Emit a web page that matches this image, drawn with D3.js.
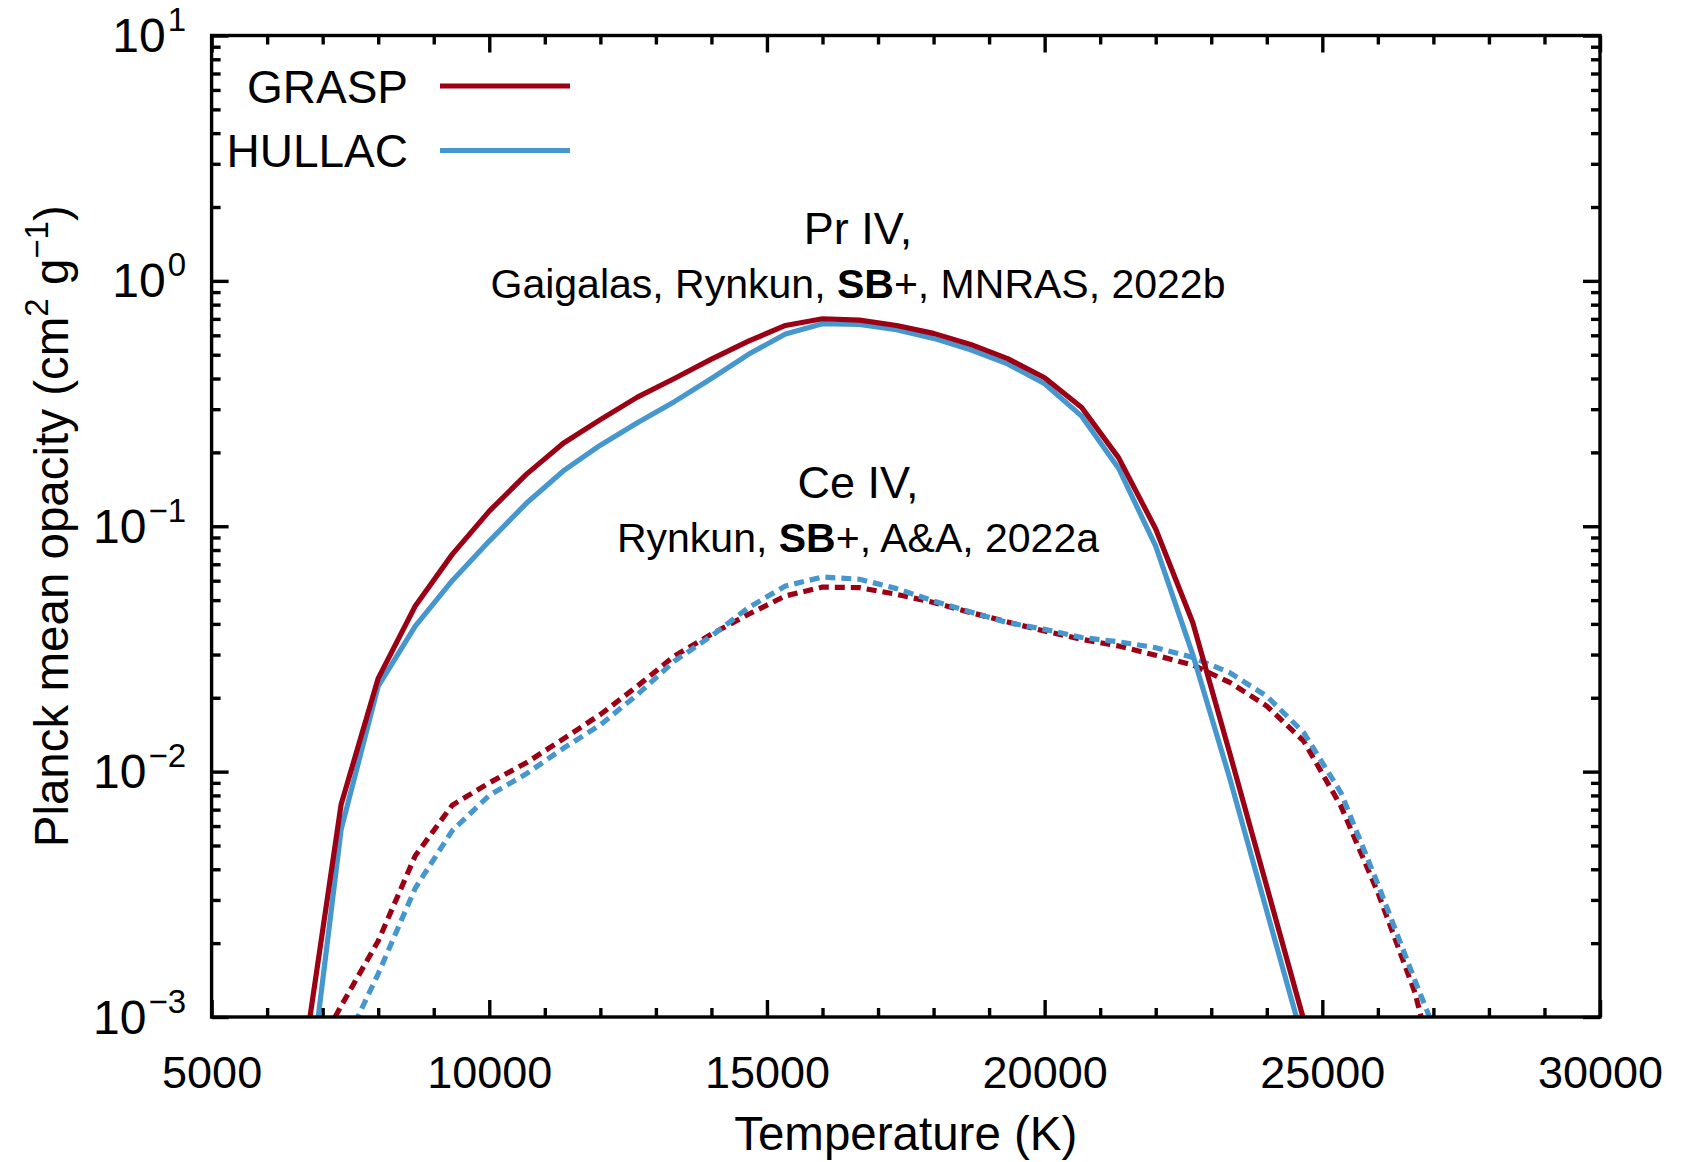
<!DOCTYPE html>
<html>
<head>
<meta charset="utf-8">
<script src="https://cdn.jsdelivr.net/npm/d3@7"></script>
<style>
  html, body { margin: 0; padding: 0; background: #fff; }
  svg { display: block; }
  text { font-family: "Liberation Sans", Arial, Helvetica, sans-serif; fill: #000; }
</style>
</head>
<body>
<svg id="chart" width="1684" height="1162"></svg>
<script>
// Temperature grid (K)
const temperature = [6667, 7333, 8000, 8667, 9333, 10000, 10667, 11333, 12000, 12667,
  13333, 14000, 14667, 15333, 16000, 16667, 17333, 18000, 18667, 19333,
  20000, 20667, 21333, 22000, 22667, 23333, 24000, 24667, 25333, 26000,
  26667, 27333];

// Planck mean opacity (cm^2 g^-1), Pr IV
const prGrasp = [0.00069, 0.00737, 0.0240, 0.0473, 0.0768, 0.1153, 0.1627, 0.218, 0.272, 0.336,
  0.400, 0.480, 0.568, 0.658, 0.701, 0.692, 0.658, 0.611, 0.551, 0.482,
  0.403, 0.305, 0.190, 0.0975, 0.0405, 0.0119, 0.0034, 0.00097, null, null,
  null, null];
const prHullac = [0.00034, 0.00582, 0.0223, 0.0392, 0.0600, 0.0870, 0.124, 0.168, 0.214, 0.264,
  0.322, 0.400, 0.502, 0.607, 0.669, 0.665, 0.632, 0.583, 0.524, 0.459,
  0.381, 0.281, 0.172, 0.083, 0.0300, 0.0094, 0.0027, 0.00078, null, null,
  null, null];

// Planck mean opacity (cm^2 g^-1), Ce IV
const ceGrasp = [0.00059, 0.00111, 0.00204, 0.00454, 0.0073, 0.0090, 0.01087, 0.0136, 0.0171, 0.0223,
  0.0296, 0.0363, 0.0438, 0.0520, 0.0565, 0.0562, 0.0528, 0.0489, 0.0445, 0.0407,
  0.0374, 0.0346, 0.0325, 0.0298, 0.0272, 0.0231, 0.0185, 0.0133, 0.00725, 0.00322,
  0.00126, 0.00032];
const ceHullac = [null, 0.00072, 0.00150, 0.00335, 0.00575, 0.0080, 0.0098, 0.01245, 0.0155, 0.0206,
  0.0282, 0.0357, 0.0466, 0.0571, 0.0621, 0.0608, 0.0557, 0.0496, 0.0447, 0.0405,
  0.0380, 0.0352, 0.0338, 0.0320, 0.0292, 0.0253, 0.0203, 0.0144, 0.00822, 0.00348,
  0.00141, 0.00059];

// Axis ticks
const xMajorTicks = [5000, 10000, 15000, 20000, 25000, 30000];
const xMinorTicks = d3.range(6000, 30000, 1000).filter(v => v % 5000 !== 0);
const yMajorTicks = [1e-3, 1e-2, 1e-1, 1, 10];
const yExponents = ["\u22123", "\u22122", "\u22121", "0", "1"];
const yMinorTicks = [];
[1e-3, 1e-2, 1e-1, 1].forEach(d => { for (let m = 2; m <= 9; m++) yMinorTicks.push(d * m); });

const legendNames = ["GRASP", "HULLAC"];
const colors = { GRASP: "#9b0014", HULLAC: "#4797cf" };

const svg = d3.select("#chart");
const plotLeft = 211.6, plotRight = 1600, plotTop = 35.5, plotBottom = 1017;

const x = d3.scaleLinear().domain([5000, 30000]).range([plotLeft, plotRight]);
const y = d3.scaleLog().domain([1e-3, 10]).range([plotBottom, plotTop]);

svg.append("rect").attr("width", 1684).attr("height", 1162).attr("fill", "#fff");

svg.append("defs").append("clipPath").attr("id", "plotClip")
  .append("rect").attr("x", plotLeft).attr("y", plotTop)
  .attr("width", plotRight - plotLeft).attr("height", plotBottom - plotTop);

// Curves
const series = [
  { values: ceGrasp, color: colors.GRASP, dash: "10,6" },
  { values: ceHullac, color: colors.HULLAC, dash: "10,6" },
  { values: prHullac, color: colors.HULLAC, dash: null },
  { values: prGrasp, color: colors.GRASP, dash: null }
];
const line = d3.line()
  .defined(d => d.v != null)
  .x(d => x(d.t))
  .y(d => y(d.v));

const curves = svg.append("g").attr("clip-path", "url(#plotClip)");
series.forEach(s => {
  const pts = temperature.map((t, i) => ({ t, v: s.values[i] }));
  curves.append("path")
    .attr("d", line(pts))
    .attr("fill", "none")
    .attr("stroke", s.color)
    .attr("stroke-width", 5.2)
    .attr("stroke-linejoin", "round")
    .attr("stroke-dasharray", s.dash);
});

// Axes with inward ticks on all four sides
function styleAxis(g) {
  g.select(".domain").remove();
  g.selectAll(".tick line").attr("stroke", "#000").attr("stroke-width", 3.4);
}
const majorLen = 17, minorLen = 9;

const xb = svg.append("g").attr("transform", `translate(0,${plotBottom})`)
  .call(d3.axisBottom(x).tickValues(xMajorTicks).tickSize(-majorLen).tickPadding(39)
    .tickFormat(d3.format("d")));
styleAxis(xb);
xb.selectAll("text").attr("font-size", 45).attr("font-family", "Liberation Sans, Arial, sans-serif");
svg.append("g").attr("transform", `translate(0,${plotBottom})`)
  .call(d3.axisBottom(x).tickValues(xMinorTicks).tickSize(-minorLen).tickFormat(""))
  .call(styleAxis);
svg.append("g").attr("transform", `translate(0,${plotTop})`)
  .call(d3.axisTop(x).tickValues(xMajorTicks).tickSize(-majorLen).tickFormat(""))
  .call(styleAxis);
svg.append("g").attr("transform", `translate(0,${plotTop})`)
  .call(d3.axisTop(x).tickValues(xMinorTicks).tickSize(-minorLen).tickFormat(""))
  .call(styleAxis);

svg.append("g").attr("transform", `translate(${plotLeft},0)`)
  .call(d3.axisLeft(y).tickValues(yMajorTicks).tickSize(-majorLen).tickFormat(""))
  .call(styleAxis);
svg.append("g").attr("transform", `translate(${plotLeft},0)`)
  .call(d3.axisLeft(y).tickValues(yMinorTicks).tickSize(-minorLen).tickFormat(""))
  .call(styleAxis);
svg.append("g").attr("transform", `translate(${plotRight},0)`)
  .call(d3.axisRight(y).tickValues(yMajorTicks).tickSize(-majorLen).tickFormat(""))
  .call(styleAxis);
svg.append("g").attr("transform", `translate(${plotRight},0)`)
  .call(d3.axisRight(y).tickValues(yMinorTicks).tickSize(-minorLen).tickFormat(""))
  .call(styleAxis);

// Y tick labels as powers of ten
const yLabels = svg.append("g");
yMajorTicks.forEach((v, i) => {
  const t = yLabels.append("text")
    .attr("x", 186).attr("y", y(v) + 16.5)
    .attr("text-anchor", "end").attr("font-size", 48);
  t.append("tspan").text("10");
  t.append("tspan").attr("font-size", 33).attr("dy", -21).attr("dx", 2).text(yExponents[i]);
});

// Frame
svg.append("rect")
  .attr("x", plotLeft).attr("y", plotTop)
  .attr("width", plotRight - plotLeft).attr("height", plotBottom - plotTop)
  .attr("fill", "none").attr("stroke", "#000").attr("stroke-width", 3.4);

// Axis titles
svg.append("text")
  .attr("x", (plotLeft + plotRight) / 2).attr("y", 1150)
  .attr("text-anchor", "middle").attr("font-size", 47.5)
  .text("Temperature (K)");

const yt = svg.append("text")
  .attr("transform", `translate(68,${(plotTop + plotBottom) / 2}) rotate(-90)`)
  .attr("text-anchor", "middle").attr("font-size", 47.5);
yt.append("tspan").text("Planck mean opacity (cm");
yt.append("tspan").attr("font-size", 33).attr("dy", -20).text("2");
yt.append("tspan").attr("dy", 20).text(" g");
yt.append("tspan").attr("font-size", 33).attr("dy", -20).text("\u22121");
yt.append("tspan").attr("dy", 20).text(")");

// Legend
const legendY = [86, 150.5];
legendNames.forEach((name, i) => {
  svg.append("text")
    .attr("x", 408).attr("y", legendY[i] + 16.5)
    .attr("text-anchor", "end").attr("font-size", 46)
    .text(name);
  svg.append("line")
    .attr("x1", 440).attr("x2", 570)
    .attr("y1", legendY[i]).attr("y2", legendY[i])
    .attr("stroke", colors[name]).attr("stroke-width", 5.2);
});

// Annotations
const cx = 858;
svg.append("text").attr("x", cx).attr("y", 244).attr("text-anchor", "middle")
  .attr("font-size", 45).text("Pr IV,");
const a1 = svg.append("text").attr("x", cx).attr("y", 298).attr("text-anchor", "middle")
  .attr("font-size", 41);
a1.append("tspan").text("Gaigalas, Rynkun, ");
a1.append("tspan").attr("font-weight", "bold").text("SB");
a1.append("tspan").text("+, MNRAS, 2022b");

svg.append("text").attr("x", cx).attr("y", 498).attr("text-anchor", "middle")
  .attr("font-size", 45).text("Ce IV,");
const a2 = svg.append("text").attr("x", cx).attr("y", 551.5).attr("text-anchor", "middle")
  .attr("font-size", 41);
a2.append("tspan").text("Rynkun, ");
a2.append("tspan").attr("font-weight", "bold").text("SB");
a2.append("tspan").text("+, A&A, 2022a");
</script>
</body>
</html>
